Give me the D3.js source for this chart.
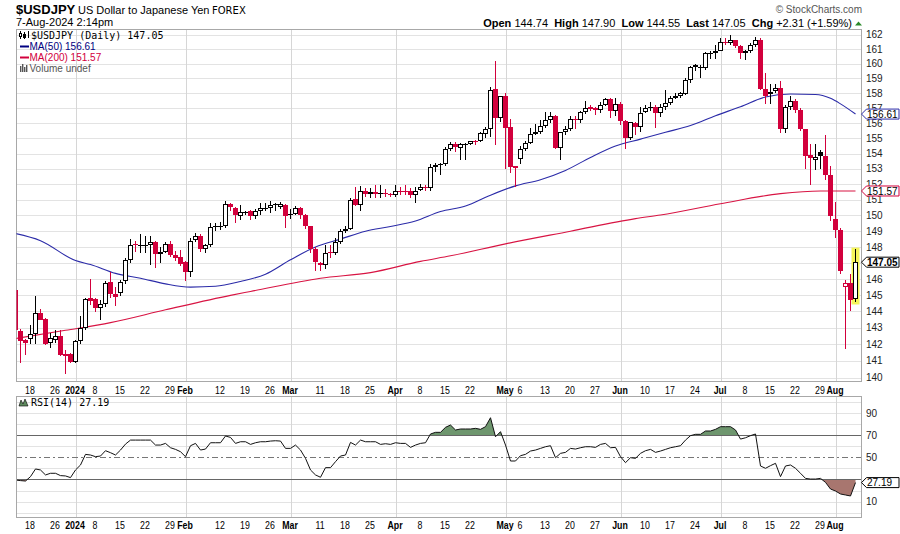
<!DOCTYPE html>
<html><head><meta charset="utf-8">
<script src="https://cdn.jsdelivr.net/npm/d3@7"></script>
<style>
body{margin:0;background:#fff;}
svg{display:block;}
text{white-space:pre;}
</style></head><body>
<svg id="c" width="900" height="534"></svg>
<script>
// ---------------- DATA ----------------
const startDate = "2023-12-13", endDate = "2024-08-07";
const holidays = ["2023-12-25","2024-01-01"];

const opens = [145.30,142.83,142.25,142.31,142.62,143.90,143.55,142.07,142.27,142.50,
141.40,141.40,140.95,142.20,143.00,144.85,144.75,144.20,144.45,145.80,
145.10,145.15,145.85,147.20,148.20,148.10,148.15,148.10,148.30,147.55,
147.70,148.20,147.50,147.40,147.05,146.45,148.45,148.70,147.90,148.10,
149.25,149.30,149.35,150.75,150.50,149.95,150.20,150.30,149.95,150.30,
150.45,150.50,150.70,150.55,150.70,150.00,150.10,150.50,150.05,149.30,
147.90,147.00,146.90,147.70,147.60,148.30,149.00,149.15,151.05,150.70,
151.60,151.40,151.50,151.35,151.45,151.35,151.30,151.60,151.60,151.60,
151.30,151.65,151.85,151.75,153.15,153.25,153.30,154.30,154.65,154.35,
154.60,154.65,154.85,154.80,155.30,155.60,158.30,156.35,157.80,155.75,
153.20,153.65,154.30,154.70,155.30,155.45,155.80,156.20,156.45,154.35,
155.40,155.65,156.30,156.20,156.75,157.05,157.00,156.90,157.20,157.60,
156.80,157.30,156.15,155.05,156.00,155.75,156.75,157.00,157.05,156.70,
157.05,157.35,157.70,157.85,157.95,158.90,159.90,159.70,159.70,160.70,
160.70,160.90,161.50,161.40,161.60,161.20,160.75,160.85,161.30,161.60,
158.30,157.95,158.15,158.35,155.65,157.05,157.45,156.90,155.60,153.90,
153.60,154.10,153.85,152.60,149.75,149.10,145.50,145.75,144.74];

const highs = [145.40,142.95,142.35,143.15,144.95,144.15,143.60,142.70,142.85,142.85,
141.65,141.45,142.25,143.70,144.85,146.00,144.80,144.70,145.85,146.45,
145.50,145.95,147.30,148.50,148.35,148.80,148.70,148.70,148.40,148.00,
148.30,148.35,147.75,147.80,147.10,148.60,148.90,148.80,148.20,149.50,
149.55,149.60,150.90,150.80,150.55,150.70,150.30,150.35,150.40,150.80,
150.80,150.95,150.80,150.85,150.75,150.40,150.60,150.55,150.10,149.35,
148.00,147.05,148.15,148.10,148.60,149.15,149.35,151.10,151.85,151.90,
151.75,151.75,151.95,151.97,151.70,151.45,151.95,151.80,151.95,151.75,
151.80,152.00,151.95,153.30,153.40,153.40,154.45,154.75,154.75,154.70,
154.70,154.85,154.90,155.40,155.75,158.40,160.20,157.85,158.00,156.30,
153.20,154.50,154.80,155.70,155.95,156.20,156.75,156.75,156.55,155.45,
155.80,156.50,156.45,156.80,157.45,157.20,157.05,157.40,157.70,157.70,
157.70,157.40,156.20,156.10,156.10,157.10,157.20,157.40,157.20,157.25,
158.25,157.85,158.00,158.10,159.00,159.85,159.95,159.90,160.80,160.85,
161.30,161.75,161.75,161.95,161.65,161.25,160.95,161.40,161.80,161.75,
159.35,158.60,158.60,158.85,157.20,157.85,157.60,157.00,155.65,154.60,
154.65,154.25,155.20,153.20,150.85,149.20,145.95,146.30,147.90];

const lows = [142.50,140.90,141.35,142.00,142.00,143.45,141.95,141.80,142.10,141.30,
140.25,140.85,140.85,142.00,142.85,144.40,143.95,143.45,144.30,144.80,
144.35,144.95,145.70,147.00,147.70,147.60,147.60,146.90,146.70,147.00,
147.60,147.40,147.10,146.80,145.90,146.10,148.30,147.70,147.60,148.00,
149.00,149.10,149.20,150.30,149.50,149.70,150.00,149.70,149.80,150.05,
150.30,150.15,150.30,150.40,149.20,149.80,150.00,149.80,149.15,147.60,
146.50,146.50,146.60,147.30,147.50,148.20,148.90,149.10,150.60,150.30,
151.20,151.10,151.10,151.10,151.20,151.20,151.20,151.30,151.30,151.10,
150.80,151.55,151.60,151.60,152.80,152.60,153.20,154.20,154.10,153.60,
153.60,154.55,154.55,154.75,155.00,155.10,154.55,156.10,153.00,152.75,
151.85,153.30,154.20,154.60,155.20,155.30,155.70,156.00,154.30,153.60,
155.20,155.50,155.60,156.00,156.60,156.80,156.55,156.70,157.15,156.35,
156.50,155.90,154.30,154.90,155.20,155.40,156.70,156.80,155.70,156.40,
156.90,157.20,157.60,157.70,157.90,158.70,159.50,159.00,159.60,160.30,
160.30,160.85,161.25,161.30,161.10,160.30,160.25,160.70,161.15,158.20,
157.25,157.25,158.00,155.35,155.35,156.90,156.70,155.50,153.00,151.95,
152.90,153.00,152.30,149.65,148.55,146.30,141.70,144.00,144.55];

const closes = [142.85,142.20,142.10,142.65,143.90,143.50,142.05,142.40,142.50,141.35,
141.30,140.95,142.20,143.00,144.75,144.65,144.20,144.45,145.75,145.10,
144.90,145.80,147.20,148.15,148.10,148.15,148.15,148.30,147.55,147.70,
148.20,147.50,147.30,146.95,146.45,148.35,148.70,147.90,148.15,149.25,
149.30,149.35,150.75,150.55,150.00,150.20,150.25,149.95,150.30,150.50,
150.50,150.70,150.72,150.75,149.95,150.10,150.50,150.05,149.30,147.90,
147.05,146.90,147.65,147.60,148.30,149.00,149.15,151.00,150.70,151.60,
151.40,151.50,151.35,151.45,151.35,151.30,151.55,151.52,151.50,151.30,
151.60,151.85,151.75,153.15,153.25,153.30,154.30,154.65,154.40,154.60,
154.65,154.80,154.78,155.35,155.60,158.20,156.35,157.80,155.70,153.10,
153.05,154.30,154.70,155.30,155.45,155.80,156.20,156.45,154.35,155.40,
155.65,156.30,156.20,156.75,157.00,156.95,156.85,157.20,157.60,156.80,
157.30,156.15,155.05,156.05,155.75,156.70,157.00,157.05,156.70,157.05,
157.35,157.70,157.85,158.05,158.90,159.75,159.78,159.80,160.70,160.75,
160.90,161.45,161.40,161.60,161.20,160.75,160.85,161.30,161.60,158.30,
157.80,158.10,158.35,155.60,157.05,157.45,156.90,155.60,153.85,153.70,
153.75,153.85,152.60,149.95,149.10,146.50,145.75,144.70,147.05];

// moving averages at trading-day positions
const ma50Idx = [0,5,12,15,20,25,30,35,40,45,50,55,60,65,70,75,80,85,90,95,100,105,110,115,120,125,130,135,140,145,150,155,160,163,165,168];
const ma50Val = [148.85,148.4,147.15,146.9,146.35,146.05,145.7,145.5,145.55,145.85,146.3,147.2,148.0,148.5,149.0,149.3,149.65,150.25,150.6,151.3,151.9,152.3,152.9,153.75,154.5,154.95,155.4,155.85,156.5,157.1,157.75,157.95,157.92,157.66,157.29,156.61];
const ma200Idx = [0,10,19,30,43,47,61,71,81,87,98,111,124,129,141,153,161,168];
const ma200Val = [142.35,142.85,143.32,144.1,144.99,145.23,146.05,146.4,147.1,147.45,148.2,149.0,149.8,150.03,150.75,151.4,151.57,151.57];

const rsi = [29.5,29.0,28.6,32.6,39.5,38.6,34.1,35.6,35.6,33.5,
33.2,31.7,38.6,43.1,52.7,52.1,50.6,51.2,56.0,54.2,
52.1,56.6,62.0,65.6,65.6,65.6,65.6,65.6,61.1,61.1,
62.6,58.7,57.2,55.1,50.6,60.5,62.6,56.6,57.5,63.2,
63.2,63.2,69.3,68.0,62.6,64.1,64.1,61.7,63.2,64.1,
64.1,64.7,65.0,64.7,58.1,58.1,61.1,56.6,49.1,38.6,
34.1,32.0,40.7,40.7,46.1,51.2,52.1,63.5,61.1,65.6,
64.1,64.1,64.1,61.7,62.3,61.7,63.2,62.6,62.6,59.0,
61.1,62.6,63.2,71.1,72.6,72.6,77.1,79.2,74.7,75.6,
75.6,75.6,76.2,75.3,77.7,85.8,68.6,73.2,61.1,46.7,
46.7,51.5,52.7,55.7,56.6,58.1,59.6,60.5,49.7,53.6,
54.5,58.1,57.5,58.7,59.6,59.6,59.0,61.7,62.6,58.7,
59.0,50.6,45.2,49.7,49.1,53.6,56.0,57.2,54.5,55.7,
57.2,58.7,59.6,60.5,65.6,69.6,70.8,70.8,73.8,73.8,
75.3,77.7,77.7,77.7,74.7,66.5,67.7,69.6,71.1,42.2,
40.1,42.5,44.6,32.6,42.2,43.1,40.1,35.6,31.0,30.4,
30.4,31.0,27.4,21.4,19.6,16.9,16.0,15.1,27.19];

const yTicks = [140,141,142,143,144,145,146,147,148,149,150,151,152,153,154,155,156,157,158,159,160,161,162];
const rsiTicks = [10,30,50,70,90];
const xTickDates = ["2023-12-18","2023-12-26","2024-01-02","2024-01-08","2024-01-15","2024-01-22","2024-01-29","2024-02-01","2024-02-12","2024-02-19","2024-02-26","2024-03-01","2024-03-11","2024-03-18","2024-03-25","2024-04-01","2024-04-08","2024-04-15","2024-04-22","2024-05-01","2024-05-06","2024-05-13","2024-05-20","2024-05-27","2024-06-03","2024-06-10","2024-06-17","2024-06-24","2024-07-01","2024-07-08","2024-07-15","2024-07-22","2024-07-29","2024-08-01"];
const xTickLabels = ["18","26","2024","8","15","22","29","Feb","12","19","26","Mar","11","18","25","Apr","8","15","22","May","6","13","20","27","Jun","10","17","24","Jul","8","15","22","29","Aug"];

// ---------------- LAYOUT ----------------
function tradingDays(s, e, hol){
  const out=[]; const d=new Date(s+"T00:00:00Z"); const end=new Date(e+"T00:00:00Z");
  while(d<=end){ const wd=d.getUTCDay(); const iso=d.toISOString().slice(0,10);
    if(wd!==0&&wd!==6&&!hol.includes(iso)) out.push(iso);
    d.setUTCDate(d.getUTCDate()+1);}
  return out;
}
const dates = tradingDays(startDate,endDate,holidays);
const n = closes.length;

const L=16,R=862,T1=29,B1=382,T2=396,B2=518;
const RED="#d2003c", BLUE="#2b2ba8", MA200C="#d81443";
const sans="'Liberation Sans', Arial, sans-serif";
const mono="'DejaVu Sans Mono', monospace";

const x = d3.scaleLinear().domain([0,n-1]).range([15,15+5*(n-1)]);
const y = d3.scaleLog().domain([140,162]).range([377.7,34.5]);
const yR = d3.scaleLinear().domain([0,100]).range([512.7,402]);

const svg = d3.select("#c");
svg.append("rect").attr("width",900).attr("height",534).attr("fill","#fff");

const monthIdx = [];
for(let i=1;i<dates.length&&i<n;i++){ if(dates[i].slice(5,7)!==dates[i-1].slice(5,7)) monthIdx.push(i); }

// ---- main panel grid ----
const g1 = svg.append("g");
g1.selectAll("line.h").data(yTicks).join("line")
  .attr("x1",L).attr("x2",R).attr("y1",d=>Math.round(y(d))+0.5).attr("y2",d=>Math.round(y(d))+0.5)
  .attr("stroke","#e3e3e3");
g1.selectAll("line.v").data(monthIdx).join("line")
  .attr("x1",d=>x(d)+1.5).attr("x2",d=>x(d)+1.5).attr("y1",T1).attr("y2",B1)
  .attr("stroke","#d6d6d6");

svg.append("clipPath").attr("id","clip1").append("rect").attr("x",L+0.5).attr("y",T1+0.5).attr("width",R-L-1).attr("height",B1-T1-1);
const gc = svg.append("g").attr("clip-path","url(#clip1)");

// highlight last candle
const last = n-1;
gc.append("rect").attr("x",x(last)-3.5).attr("width",8)
  .attr("y",y(highs[last])-1).attr("height",y(lows[last])-y(highs[last])+3).attr("fill","#f5f55a");

// MA lines
const maLine = d3.line().x(d=>x(d[0])+0.5).y(d=>y(d[1])).curve(d3.curveMonotoneX);
gc.append("path").attr("d",maLine(ma200Idx.map((d,i)=>[d,ma200Val[i]]))).attr("fill","none").attr("stroke",MA200C).attr("stroke-width",1.1);
gc.append("path").attr("d",maLine(ma50Idx.map((d,i)=>[d,ma50Val[i]]))).attr("fill","none").attr("stroke",BLUE).attr("stroke-width",1.1);

// candles
const candles = d3.range(n).map(i=>({i,o:opens[i],h:highs[i],l:lows[i],c:closes[i],pc:i>0?closes[i-1]:Infinity}));
const cg = gc.append("g");
candles.forEach(d=>{
  const col = d.c>=d.pc ? "#000" : RED;
  const cx = x(d.i);
  cg.append("line").attr("x1",cx+0.5).attr("x2",cx+0.5).attr("y1",Math.round(y(d.h))).attr("y2",Math.round(y(d.l)))
    .attr("stroke",col).attr("stroke-width",1);
  const top=Math.round(y(Math.max(d.o,d.c))), bot=Math.round(y(Math.min(d.o,d.c)));
  if(d.c<d.o){
    cg.append("rect").attr("x",cx-2).attr("y",top).attr("width",5).attr("height",Math.max(1,bot-top)).attr("fill",col);
  } else if(bot-top<2){
    cg.append("line").attr("x1",cx-2).attr("x2",cx+3).attr("y1",top+0.5).attr("y2",top+0.5).attr("stroke",col);
  } else {
    cg.append("rect").attr("x",cx-1.5).attr("y",top+0.5).attr("width",4).attr("height",bot-top-1)
      .attr("fill","#fff").attr("stroke",col).attr("stroke-width",1);
  }
});

g1.append("rect").attr("x",L+0.5).attr("y",T1+0.5).attr("width",R-L-1).attr("height",B1-T1-1).attr("fill","none").attr("stroke","#a8a8a8");

// flags (value markers on the axis)
const mainFlags = [y(ma50Val[ma50Val.length-1]), y(ma200Val[ma200Val.length-1]), y(closes[last])];
const rsiFlags = [yR(rsi[last])];

// y tick labels (those hidden behind a marker are not drawn, as in the reference)
svg.append("g").selectAll("text").data(yTicks.filter(v=>mainFlags.every(f=>Math.abs(y(v)-f)>=5))).join("text")
  .attr("x",866).attr("y",d=>y(d)+3.5).text(d=>d)
  .attr("font-family",sans).attr("font-size",10).attr("fill","#222");

function flag(yv,txt,col,bold){
  const h=5;
  svg.append("path").attr("d",`M${R-0.5},${yv} L${R+4.5},${yv-h} L899,${yv-h} L899,${yv+h} L${R+4.5},${yv+h} Z`)
    .attr("fill","#fff").attr("stroke",col).attr("stroke-width",1);
  svg.append("text").attr("x",867).attr("y",yv+3.6).text(txt).attr("font-family",sans).attr("font-size",10)
    .attr("font-weight",bold?"bold":"normal").attr("fill","#000");
}
flag(mainFlags[0],ma50Val[ma50Val.length-1].toFixed(2),BLUE,false);
flag(mainFlags[1],ma200Val[ma200Val.length-1].toFixed(2),RED,false);
flag(mainFlags[2],closes[last].toFixed(2),"#000",true);

// legend main
const lg = svg.append("g");
lg.append("line").attr("x1",20.5).attr("x2",20.5).attr("y1",31).attr("y2",39).attr("stroke","#000");
lg.append("rect").attr("x",19.5).attr("y",33.5).attr("width",2).attr("height",3).attr("fill","#fff").attr("stroke","#000");
lg.append("line").attr("x1",24.5).attr("x2",24.5).attr("y1",32).attr("y2",39).attr("stroke","#000");
lg.append("rect").attr("x",23).attr("y",34).attr("width",3).attr("height",4).attr("fill","#000");
lg.append("line").attr("x1",28.5).attr("x2",28.5).attr("y1",31).attr("y2",38).attr("stroke","#000");
lg.append("text").attr("x",31).attr("y",38.5).text("$USDJPY (Daily) 147.05").attr("font-family",mono).attr("font-size",10).attr("fill","#000");
lg.append("line").attr("x1",20).attr("x2",29).attr("y1",46.5).attr("y2",46.5).attr("stroke","#000080").attr("stroke-width",2);
lg.append("text").attr("x",29.5).attr("y",50).text("MA(50) 156.61").attr("font-family",sans).attr("font-size",10).attr("fill","#000080");
lg.append("line").attr("x1",20).attr("x2",29).attr("y1",57.5).attr("y2",57.5).attr("stroke",RED).attr("stroke-width",2);
lg.append("text").attr("x",29.5).attr("y",61).text("MA(200) 151.57").attr("font-family",sans).attr("font-size",10).attr("fill",RED);
[[20,66,6],[22,64,8],[24,67,5],[26,65,7]].forEach(b=>lg.append("rect").attr("x",b[0]).attr("y",b[1]).attr("width",1.4).attr("height",b[2]).attr("fill","#555"));
lg.append("text").attr("x",29.5).attr("y",71.7).text("Volume undef").attr("font-family",sans).attr("font-size",10).attr("fill","#555");

// header
svg.append("text").attr("x",16).attr("y",14).text("$USDJPY").attr("font-family",sans).attr("font-size",13).attr("font-weight","bold").attr("fill","#000");
svg.append("text").attr("x",78).attr("y",13.5).text("US Dollar to Japanese Yen").attr("font-family",sans).attr("font-size",11).attr("fill","#000");
svg.append("text").attr("x",212).attr("y",13.5).text("FOREX").attr("font-family","'DejaVu Sans',sans-serif").attr("font-size",10).attr("fill","#000");
svg.append("text").attr("x",16).attr("y",26).text("7-Aug-2024 2:14pm").attr("font-family",sans).attr("font-size",11).attr("fill","#000");
svg.append("text").attr("x",862).attr("y",13).attr("text-anchor","end").text("\u00A9 StockCharts.com").attr("font-family",sans).attr("font-size",10).attr("fill","#555");
const hdr = svg.append("text").attr("x",852).attr("y",26.5).attr("text-anchor","end").attr("font-family",sans).attr("font-size",11).attr("fill","#000");
[["Open",1],[" 144.74  ",0],["High",1],[" 147.90  ",0],["Low",1],[" 144.55  ",0],["Last",1],[" 147.05  ",0],["Chg",1],[" +2.31 (+1.59%)",0]]
  .forEach(p=>hdr.append("tspan").text(p[0]).attr("font-weight",p[1]?"bold":"normal"));
svg.append("path").attr("d","M855,25.5 L858.5,21.5 L862,25.5 Z").attr("fill","#2a8a2a");

// x axis labels (condensed look)
const tickIdx = xTickDates.map(d=>dates.indexOf(d));
function xLabels(yy){
  svg.append("g").selectAll("text").data(xTickLabels).join("text")
    .attr("transform",(d,i)=>`translate(${x(tickIdx[i])},${yy}) scale(0.8,1)`)
    .attr("text-anchor","middle").text(d=>d)
    .attr("font-family",sans).attr("font-size",11).attr("fill","#000")
    .attr("font-weight",d=>/^[A-Z]|2024/.test(d)?"bold":"normal");
}
xLabels(393.5);
xLabels(529);

// ---- RSI panel ----
const g2 = svg.append("g");
g2.selectAll("line.h").data(d3.range(0,101,10).filter(v=>v!==30&&v!==50&&v!==70)).join("line")
  .attr("x1",L).attr("x2",R).attr("y1",d=>Math.round(yR(d))+0.5).attr("y2",d=>Math.round(yR(d))+0.5).attr("stroke","#e3e3e3");
g2.selectAll("line.v").data(monthIdx).join("line")
  .attr("x1",d=>x(d)+1.5).attr("x2",d=>x(d)+1.5).attr("y1",T2).attr("y2",B2).attr("stroke","#d6d6d6");
svg.append("clipPath").attr("id","clipOB").append("rect").attr("x",L).attr("y",T2).attr("width",R-L).attr("height",yR(70)-T2);
svg.append("clipPath").attr("id","clipOS").append("rect").attr("x",L).attr("y",yR(30)).attr("width",R-L).attr("height",B2-yR(30));
const ar70 = d3.area().x((d,i)=>x(i)+0.5).y0(yR(70)).y1(d=>yR(d));
const ar30 = d3.area().x((d,i)=>x(i)+0.5).y0(yR(30)).y1(d=>yR(d));
g2.append("path").attr("d",ar70(rsi)).attr("fill","#6e966e").attr("clip-path","url(#clipOB)");
g2.append("path").attr("d",ar30(rsi)).attr("fill","#a8766f").attr("clip-path","url(#clipOS)");
[70,30].forEach(v=>g2.append("line").attr("x1",L).attr("x2",R).attr("y1",Math.round(yR(v))+0.5).attr("y2",Math.round(yR(v))+0.5).attr("stroke","#666"));
g2.append("line").attr("x1",L).attr("x2",R).attr("y1",Math.round(yR(50))+0.5).attr("y2",Math.round(yR(50))+0.5).attr("stroke","#777").attr("stroke-dasharray","6,3,2,3");
svg.append("clipPath").attr("id","clip2").append("rect").attr("x",L).attr("y",T2).attr("width",R-L).attr("height",B2-T2);
g2.append("path").attr("d",d3.line().x((d,i)=>x(i)+0.5).y(d=>yR(d))(rsi)).attr("fill","none").attr("stroke","#111").attr("stroke-width",1).attr("clip-path","url(#clip2)");
g2.append("rect").attr("x",L+0.5).attr("y",T2+0.5).attr("width",R-L-1).attr("height",B2-T2-1).attr("fill","none").attr("stroke","#a8a8a8");
svg.append("g").selectAll("text").data(rsiTicks.filter(v=>rsiFlags.every(f=>Math.abs(yR(v)-f)>=5))).join("text")
  .attr("x",866).attr("y",d=>yR(d)+3.5).text(d=>d).attr("font-family",sans).attr("font-size",10).attr("fill","#222");
flag(rsiFlags[0],rsi[last].toFixed(2),"#000",false);
// RSI legend
svg.append("path").attr("d","M19,406 L21,400 L23,404 L25,399 L28,406 Z").attr("fill","#5e8a5e").attr("stroke","#000").attr("stroke-width",0.6);
svg.append("text").attr("x",31).attr("y",405.5).text("RSI(14) 27.19").attr("font-family",mono).attr("font-size",10).attr("fill","#000");
</script>
</body></html>
